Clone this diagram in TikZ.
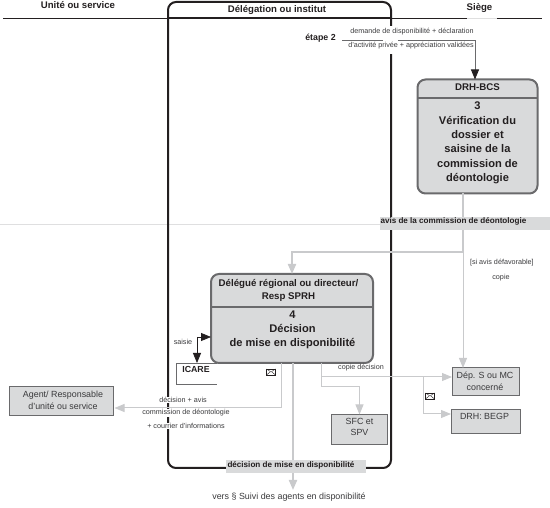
\documentclass[tikz,border=0pt]{standalone}
\usepackage{fontspec}
\setmainfont{Liberation Sans}
\usetikzlibrary{arrows.meta,calc}
\definecolor{boxfill}{HTML}{D9DADB}
\definecolor{boxedge}{HTML}{6A6A6C}
\definecolor{lightline}{HTML}{C9CACC}
\definecolor{blackline}{HTML}{231F20}
\definecolor{txt}{HTML}{3A3A3C}
\tikzset{
  every node/.style={inner sep=0pt,outer sep=0pt,text=txt},
  head/.style={font=\fontsize{9.6}{11}\selectfont\bfseries,text=blackline},
  note/.style={font=\fontsize{7.2}{9}\selectfont,text=txt,align=center},
  notebg/.style={note,fill=white,inner xsep=1pt,inner ysep=.5pt},
  bandtext/.style={font=\fontsize{8.1}{9}\selectfont\bfseries,text=blackline},
  mainbox/.style={draw=boxedge,line width=2pt,fill=boxfill,rounded corners=8pt,anchor=north west},
  sidebox/.style={draw=boxedge,line width=1pt,fill=boxfill,anchor=north west},
  boxhead/.style={font=\fontsize{9.7}{13}\selectfont\bfseries,text=blackline,align=center},
  boxbody/.style={font=\fontsize{11.1}{14.3}\selectfont\bfseries,text=blackline,align=center},
  sidetext/.style={font=\fontsize{8.9}{11.6}\selectfont,text=txt,align=center},
  flow/.style={draw=lightline,line width=1pt},
  flowthick/.style={draw=lightline,line width=2pt},
  bigtip/.style={-{Triangle[length=10pt,width=8pt,fill=lightline,color=lightline]}},
  blacktip/.style={-{Triangle[length=10pt,width=8pt,fill=blackline,color=blackline]}},
}
\begin{document}
\begin{tikzpicture}[x=1pt,y=-1pt]
\useasboundingbox (0,0) rectangle (550,508);
% horizontal bands
\coordinate (topL) at (3,18);
\coordinate (topR) at (542,18);
\draw[blackline,line width=.7pt] (topL) -- (topR);
\draw[white!75!gray,line width=.8pt] (467,18) -- (497,18);
\coordinate (bandL) at (0,225);
\coordinate (bandR) at (381,225);
\draw[lightline!60!white,line width=1pt] (bandL) -- (bandR);
% institute frame
\node[draw=blackline,line width=2pt,rounded corners=8pt,minimum width=223pt,minimum height=466pt,anchor=north west] (deleg) at (168,2) {};
\draw[blackline,line width=1.4pt] (deleg.west |- 0,17.5) -- (deleg.east |- 0,17.5);
\fill[white] (388,26) rectangle (394,54);
% column headings
\node[head] (h1) at (78,5) {Unité ou service};
\node[head] (h2) at (277,10) {Délégation ou institut};
\node[head] (h3) at (479.500,8) {Siège};
% step 3 box
\node[mainbox,minimum width=120pt,minimum height=114pt] (drh) at (417.5,79.5) {};
\coordinate (drhsep) at (0,98);
\draw[boxedge,line width=1.6pt] (drh.west |- drhsep) -- (drh.east |- drhsep);
\node[boxhead] (drhh) at (477.5,87.500) {DRH-BCS};
\node[boxbody] (drhb) at (477.5,143) {3\\Vérification du\\dossier et\\saisine de la\\commission de\\déontologie};
% step 4 box
\node[mainbox,minimum width=162pt,minimum height=89pt] (dec) at (211,274) {};
\coordinate (decsep) at (0,307);
\draw[boxedge,line width=1.6pt] (dec.west |- decsep) -- (dec.east |- decsep);
\node[boxhead] (dech) at (288.500,290.500) {Délégué régional ou directeur/\\Resp SPRH};
\node[boxbody] (decb) at (292.500,330) {4\\Décision\\de mise en disponibilité};
% side boxes
\node[sidebox,minimum width=104pt,minimum height=29pt] (agent) at (9.5,387) {};
\node[sidetext] (agentt) at (63,400.500) {Agent/ Responsable\\d'unité ou service};
\node[sidebox,minimum width=67pt,minimum height=28pt] (dep) at (452,368) {};
\node[sidetext] (dept) at (485,381) {Dép. S ou MC\\concerné};
\node[sidebox,minimum width=69pt,minimum height=24pt] (begp) at (451,409.500) {};
\node[sidetext] (begpt) at (484.500,416) {DRH: BEGP};
\node[sidebox,minimum width=56pt,minimum height=30pt] (sfc) at (331.500,414.500) {};
\node[sidetext] (sfct) at (359.500,427) {SFC et\\SPV};
% ICARE
\coordinate (icareA) at (217,363);
\coordinate (icareB) at (176.5,363);
\coordinate (icareC) at (176.5,384);
\coordinate (icareD) at (217,384);
\draw[boxedge,line width=.7pt] (icareA) -- (icareB) -- (icareC) -- (icareD);
\node[font=\fontsize{8.8}{10}\selectfont\bfseries,text=blackline] (icare) at (196,369) {ICARE};
% light connectors
\coordinate (turnA) at (463,252);
\coordinate (turnB) at (292,252);
\draw[flowthick,bigtip] (turnA |- drh.south) -- (turnA) -- (turnB) -- (turnB |- dec.north);
\draw[flow,bigtip] (turnA) -- (turnA |- dep.north);
\coordinate (agentTurn) at (281,408);
\draw[flow,bigtip] (agentTurn |- dec.south) -- (agentTurn) -- ($(agent.east |- agentTurn)+(1,0)$);
\coordinate (copyA) at (321,377);
\coordinate (copyB) at (321,387);
\coordinate (copyC) at (359.500,387);
\coordinate (copyD) at (423,377);
\coordinate (copyE) at (423,414);
\draw[flow] (copyB |- dec.south) -- (copyB) -- (copyC);
\draw[flow,bigtip] (copyC) -- (copyC |- sfc.north);
\draw[flow,bigtip] (copyA) -- (dep.west |- copyA);
\draw[flow,bigtip] (copyD) -- (copyE) -- (begp.west |- copyE);
\coordinate (mainOut) at (293,490);
\draw[flowthick,bigtip] (mainOut |- dec.south) -- (mainOut);
% dark connectors
\coordinate (inA) at (342,40.500);
\coordinate (inG) at (383,40.500);
\coordinate (inH) at (398,40.500);
\coordinate (inB) at (475,40.500);
\draw[boxedge,line width=.8pt] (inA) -- (inG);
\draw[boxedge,line width=.8pt] (inH) -- (inB);
\draw[boxedge,line width=.8pt,blacktip] (inB) -- (inB |- drh.north);
\coordinate (saisieE) at (197,337);
\draw[blackline,line width=.8pt,blacktip] (saisieE) -- (saisieE -| dec.west);
\draw[blackline,line width=.8pt,blacktip] (saisieE) -- (saisieE |- icareB);
% labels
\node[font=\fontsize{8.8}{10}\selectfont\bfseries,text=blackline] (etape) at (320.500,38.500) {étape 2};
\node[note] (n1) at (412,32) {demande de disponibilité + déclaration};
\node[note] (n2) at (411,46) {d'activité privée + appréciation validées};
\fill[boxfill] (380,217.500) rectangle (550,230);
\node[bandtext,anchor=west] (avis) at (380.500,221.300) {avis de la commission de déontologie};
\node[note,anchor=west] (def) at (470,263) {[si avis défavorable]};
\node[note] (cop) at (501,278) {copie};
\node[note] (sai) at (183,342) {saisie};
\node[notebg] (dc1) at (183,400) {décision + avis};
\node[notebg] (dc2) at (186,413) {commission de déontologie};
\node[notebg] (dc3) at (186,426) {+ courrier d'informations};
\node[note] (cd) at (361,368) {copie décision};
\fill[boxfill] (226,460.500) rectangle (366,473);
\node[bandtext] (dmd) at (291,465) {décision de mise en disponibilité};
\node[font=\fontsize{8.9}{10}\selectfont,text=txt] (vers) at (289,497) {vers § Suivi des agents en disponibilité};
% envelopes
\foreach \n/\cx/\cy in {envA/271/372,envB/430/396}{
  \node[draw=blackline,line width=.7pt,minimum width=9pt,minimum height=6pt,fill=white] (\n) at (\cx,\cy) {};
  \draw[blackline,line width=.4pt] (\n.north west) -- (\n.center) -- (\n.north east);
  \draw[blackline,line width=.4pt] (\n.south west) -- ($(\n.center)+(-1,0)$);
  \draw[blackline,line width=.4pt] (\n.south east) -- ($(\n.center)+(1,0)$);
}
\end{tikzpicture}
\end{document}
